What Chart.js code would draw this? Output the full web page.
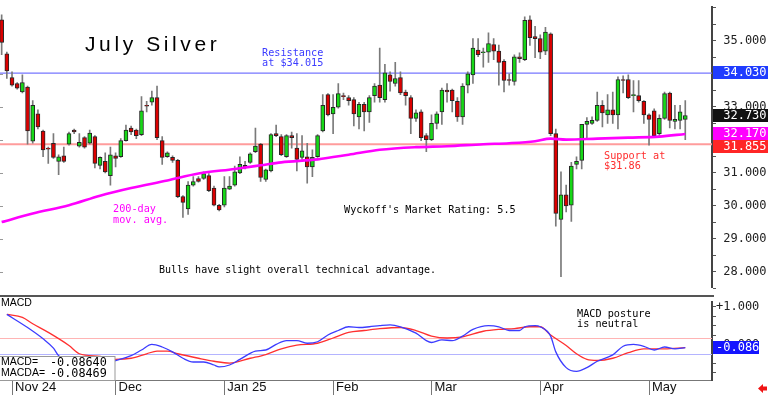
<!DOCTYPE html>
<html lang="en">
<head>
<meta charset="UTF-8" />
<title>July Silver</title>
<script src="https://cdn.jsdelivr.net/npm/chart.js@4"></script>
<style>
  html, body { margin: 0; padding: 0; background: #fff; overflow: hidden; }
  #wrap { position: relative; width: 768px; height: 395px; }
  canvas { position: absolute; left: 0; }
</style>
</head>
<body>
<div id="wrap">
  <canvas id="priceChart" width="768" height="295" style="top:0"></canvas>
  <canvas id="macdChart" width="768" height="100" style="top:295px"></canvas>
</div>
<script>
// daily bars, Oct 30 2024 .. May 12 2025 (x = trading-day index 0..132)
const opens = [
  35.63, 34.60, 33.88, 33.70, 33.44, 33.59, 31.95, 32.78, 32.26, 31.74,
  31.89, 31.34, 31.51, 31.86, 32.29, 31.80, 32.06, 31.89, 32.09, 31.22,
  31.34, 30.91, 31.51, 31.48, 31.97, 32.35, 32.29, 32.15, 33.04, 33.13,
  33.27, 31.97, 31.48, 31.46, 31.37, 30.27, 29.90, 30.62, 30.82, 30.82,
  30.91, 30.53, 30.01, 30.01, 30.50, 30.62, 30.99, 31.22, 31.31, 31.63,
  31.86, 30.79, 31.05, 32.18, 32.09, 31.48, 32.12, 31.74, 31.46, 31.48,
  31.17, 31.48, 32.26, 33.36, 32.78, 32.98, 33.33, 33.27, 33.21, 32.69,
  33.07, 32.84, 33.33, 33.65, 33.21, 33.96, 33.70, 33.88, 33.44, 33.27,
  32.64, 32.84, 32.12, 32.00, 32.49, 32.84, 33.50, 33.50, 33.16, 32.69,
  33.65, 33.96, 34.71, 34.63, 34.65, 34.88, 34.68, 34.37, 33.82, 33.76,
  34.51, 34.42, 35.63, 35.12, 35.06, 34.68, 35.20, 32.18, 29.58, 30.33,
  30.01, 31.25, 31.37, 32.46, 32.49, 32.58, 33.04, 32.75, 32.90, 32.75,
  33.82, 33.82, 33.33, 33.33, 33.16, 32.75, 32.87, 32.18, 32.64, 33.41,
  32.55, 32.58, 32.61
];
const highs = [
  35.78, 34.65, 34.05, 33.73, 33.96, 33.62, 33.18, 32.90, 32.29, 31.77,
  32.18, 31.54, 31.77, 32.23, 32.32, 32.18, 32.09, 32.29, 32.12, 31.48,
  31.60, 31.77, 31.60, 32.03, 32.44, 32.41, 32.32, 33.30, 33.16, 33.47,
  33.62, 32.09, 31.63, 31.51, 31.40, 30.30, 30.73, 30.88, 30.88, 31.02,
  30.97, 30.59, 30.04, 30.88, 30.88, 31.20, 31.48, 31.34, 31.60, 32.35,
  31.89, 31.11, 32.18, 32.44, 32.15, 32.15, 32.23, 32.18, 32.12, 31.89,
  31.69, 32.15, 33.36, 33.39, 33.36, 33.70, 33.41, 33.33, 33.27, 33.13,
  33.13, 33.33, 33.70, 34.77, 34.28, 34.05, 34.34, 34.05, 33.50, 33.33,
  32.90, 32.90, 32.18, 32.75, 32.84, 33.56, 33.70, 33.53, 33.27, 33.70,
  34.05, 35.06, 35.06, 34.77, 35.23, 35.06, 34.86, 34.42, 33.99, 34.57,
  34.63, 35.72, 35.75, 35.43, 35.17, 35.40, 35.23, 32.32, 31.02, 30.62,
  31.31, 31.48, 32.46, 32.67, 32.69, 33.44, 33.18, 33.36, 33.44, 33.90,
  33.93, 33.96, 33.79, 33.79, 33.18, 32.78, 32.93, 32.75, 33.44, 33.44,
  33.04, 33.04, 33.18
];
const lows = [
  34.57, 33.85, 33.62, 33.53, 33.41, 31.86, 31.89, 32.32, 31.48, 31.28,
  31.43, 30.94, 31.31, 31.83, 32.18, 31.77, 31.74, 31.86, 31.14, 31.11,
  30.99, 30.62, 31.17, 31.46, 31.95, 32.15, 32.03, 32.12, 32.84, 33.04,
  32.00, 31.25, 31.46, 31.31, 30.24, 29.64, 29.73, 30.59, 30.71, 30.79,
  30.42, 29.99, 29.84, 29.96, 30.48, 30.59, 30.97, 31.11, 31.28, 31.60,
  30.73, 30.73, 31.02, 32.09, 31.51, 31.46, 31.74, 31.05, 31.40, 30.68,
  30.88, 31.46, 32.23, 32.72, 32.18, 32.95, 33.21, 33.04, 32.41, 32.32,
  32.26, 32.52, 33.13, 33.13, 33.13, 33.47, 33.62, 33.36, 33.04, 32.18,
  32.55, 31.97, 31.63, 31.97, 32.32, 32.46, 33.13, 32.84, 32.55, 32.46,
  33.41, 33.70, 34.51, 34.19, 34.34, 34.42, 33.65, 33.44, 33.65, 33.65,
  34.34, 34.39, 34.85, 34.48, 34.45, 34.57, 32.12, 29.38, 27.85, 29.81,
  29.52, 31.11, 31.11, 32.06, 32.46, 32.55, 32.38, 32.49, 32.49, 32.32,
  33.41, 33.24, 32.84, 33.13, 32.49, 31.83, 32.06, 32.12, 32.61, 32.35,
  32.32, 32.32, 32.00
];
const closes = [
  34.94, 34.08, 33.65, 33.56, 33.73, 32.26, 33.04, 32.38, 31.69, 31.71,
  31.46, 31.48, 31.34, 32.18, 32.23, 31.92, 31.77, 32.20, 31.28, 31.46,
  31.02, 31.54, 31.43, 31.97, 32.29, 32.23, 32.12, 32.87, 33.01, 33.27,
  32.06, 31.46, 31.60, 31.37, 30.27, 30.10, 30.62, 30.73, 30.73, 30.97,
  30.45, 30.01, 29.87, 30.53, 30.59, 31.02, 31.25, 31.14, 31.57, 31.80,
  30.85, 31.08, 32.15, 32.12, 31.54, 32.12, 32.06, 31.40, 31.66, 31.17,
  31.46, 32.12, 33.04, 32.75, 32.98, 33.39, 33.30, 33.18, 32.78, 33.07,
  32.84, 33.27, 33.62, 33.27, 34.02, 33.76, 33.85, 33.41, 33.33, 32.64,
  32.81, 32.06, 32.00, 32.49, 32.78, 33.50, 33.44, 33.18, 32.69, 33.62,
  33.99, 34.77, 34.57, 34.65, 34.91, 34.68, 34.34, 33.79, 33.79, 34.51,
  34.45, 35.61, 35.09, 35.06, 34.65, 35.26, 32.18, 29.76, 30.33, 29.99,
  31.20, 31.34, 32.46, 32.55, 32.58, 33.04, 32.81, 32.90, 32.75, 33.82,
  33.79, 33.27, 33.36, 33.18, 32.75, 32.61, 32.12, 32.64, 33.39, 32.58,
  32.61, 32.84, 32.73
];

// 200-day moving average
const maIdx = [0, 6, 13, 19, 25, 32, 38, 45, 50, 54, 61, 67, 73, 80, 86, 93, 98, 103, 106, 109, 115, 121, 127, 132];
const maVals = [29.50, 29.76, 30.01, 30.30, 30.53, 30.76, 30.97, 31.11, 31.22, 31.31, 31.40, 31.54, 31.69, 31.77, 31.80, 31.86, 31.89, 31.95, 32.03, 32.00, 32.03, 32.06, 32.09, 32.17];

// MACD (blue) and MACDA signal (red)
const macdIdx = [1, 5, 8, 10, 11, 17, 22, 25, 27, 29, 31, 33, 35, 37, 39, 41, 42, 44, 46, 49, 51, 53, 55, 57, 59, 61, 63, 65, 67, 69, 71, 73, 75, 77, 80, 82, 83, 85, 87, 89, 91, 94, 96, 98, 100, 101, 103, 104, 106, 107, 109, 111, 113, 115, 118, 120, 122, 124, 126, 128, 130, 132];
const macdVals = [0.80, 0.45, 0.15, -0.10, -0.30, -0.62, -0.43, -0.30, -0.15, 0.00, -0.07, -0.20, -0.37, -0.47, -0.47, -0.55, -0.60, -0.55, -0.40, -0.18, -0.15, 0.00, 0.10, 0.10, 0.03, 0.07, 0.25, 0.37, 0.47, 0.45, 0.47, 0.50, 0.52, 0.47, 0.30, 0.10, 0.05, 0.12, 0.10, 0.22, 0.40, 0.50, 0.47, 0.37, 0.37, 0.47, 0.50, 0.47, 0.22, -0.20, -0.62, -0.72, -0.62, -0.45, -0.28, -0.05, 0.00, -0.05, -0.15, -0.07, -0.12, -0.086];
const signalIdx = [1, 4, 6, 9, 13, 15, 19, 22, 25, 28, 30, 32, 34, 38, 41, 44, 48, 51, 54, 57, 61, 64, 67, 70, 73, 77, 80, 83, 86, 89, 93, 96, 99, 102, 104, 106, 109, 111, 113, 115, 118, 121, 124, 128, 132];
const signalVals = [0.80, 0.72, 0.55, 0.32, -0.03, -0.25, -0.32, -0.40, -0.37, -0.25, -0.18, -0.18, -0.25, -0.37, -0.45, -0.50, -0.37, -0.27, -0.12, -0.02, 0.03, 0.17, 0.32, 0.37, 0.42, 0.45, 0.37, 0.22, 0.17, 0.20, 0.35, 0.40, 0.42, 0.47, 0.47, 0.25, -0.03, -0.25, -0.40, -0.43, -0.37, -0.22, -0.12, -0.12, -0.085];
const macdNow = -0.08640;
const signalNow = -0.08469;

// axes
const monthLabels = ["Nov 24", "Dec", "Jan 25", "Feb", "Mar", "Apr", "May"];
const monthStart = [2, 22, 43, 64, 83, 104, 125];
const priceTicks = [27.5, 28, 28.5, 29, 29.5, 30, 30.5, 31, 31.5, 32, 32.5, 33, 33.5, 34, 34.5, 35, 35.5, 36];
const priceLabelTicks = [28, 29, 30, 31, 32, 33, 34, 35];
const macdTicks = [1, 0.75, 0.5, 0.25, 0, -0.25, -0.5, -0.75];
const macdLabelTicks = [1, 0];

// levels and marked values
const resistance = 34.015;
const support = 31.855;
const priceMarks = [34.030, 32.730, 32.170, 31.855];
const macdLevels = [0.18, -0.25];

const X_MIN = -0.32, X_MAX = 137.16;
const MONO = '"DejaVu Sans Mono", monospace';
const SANS = '"Liberation Sans", Arial, sans-serif';

const fmt3 = v => (v > 0 ? ' ' : v < 0 ? '-' : ' ') + Math.abs(v).toFixed(3);

function spacedText(ctx, str, x, y, gap) {
  for (const ch of str) {
    ctx.fillText(ch, x, y);
    x += ctx.measureText(ch).width + gap;
  }
}

function valueBoxes(ctx, scale, marks, colors, x0, x1, h) {
  let lastBottom = -Infinity;
  ctx.font = '12px ' + MONO;
  ctx.textBaseline = 'middle';
  ctx.textAlign = 'left';
  marks.map((v, k) => ({ v, c: colors[k], p: scale.getPixelForValue(v) }))
    .sort((a, b) => a.p - b.p)
    .forEach(m => {
      let top = Math.round(m.p - h / 2);
      if (top < lastBottom) top = lastBottom;
      ctx.fillStyle = m.c;
      ctx.fillRect(x0, top, x1 - x0, h);
      ctx.fillStyle = '#fff';
      ctx.fillText(fmt3(m.v), x0 + 3, top + h / 2 + 0.5);
      lastBottom = top + h;
    });
}

const up = i => closes[i] >= opens[i];
const idx = opens.map((_, i) => i);

const priceDecor = {
  id: 'priceDecor',
  beforeDatasetsDraw(chart) {
    const { ctx, chartArea: a, scales: { y } } = chart;
    ctx.save();
    [[resistance, '#7676ff', 1.3], [support, '#ff9c9c', 2]].forEach(([v, c, w]) => {
      const py = y.getPixelForValue(v);
      ctx.strokeStyle = c;
      ctx.lineWidth = w;
      ctx.beginPath();
      ctx.moveTo(a.left, py);
      ctx.lineTo(a.right, py);
      ctx.stroke();
    });
    // little marks on the left edge at whole dollars
    ctx.strokeStyle = '#999';
    ctx.lineWidth = 1;
    priceLabelTicks.forEach(v => {
      const py = Math.round(y.getPixelForValue(v)) + 0.5;
      ctx.beginPath();
      ctx.moveTo(0, py);
      ctx.lineTo(3, py);
      ctx.stroke();
    });
    ctx.restore();
  },
  afterDraw(chart) {
    const { ctx, scales: { y } } = chart;
    ctx.save();
    valueBoxes(ctx, y, priceMarks, ['#1f3cff', '#111111', '#ff00ff', '#ff2626'], 713, 768, 13);

    ctx.textBaseline = 'middle';
    ctx.textAlign = 'left';
    ctx.fillStyle = '#000';
    ctx.font = '21px ' + SANS;
    spacedText(ctx, 'July Silver', 85, 45, 3.6);

    ctx.font = '10.2px ' + MONO;
    ctx.fillStyle = '#3b3bff';
    ctx.fillText('Resistance', 262, 53);
    ctx.fillText('at $34.015', 262, 63);

    ctx.fillStyle = '#ff2d2d';
    ctx.fillText('Support at', 604, 156);
    ctx.fillText('$31.86', 604, 166);

    ctx.fillStyle = '#ff00ff';
    ctx.fillText('200-day', 113, 209);
    ctx.fillText('mov. avg.', 113, 220);

    ctx.fillStyle = '#000';
    ctx.fillText("Wyckoff's Market Rating: 5.5", 344, 210);
    ctx.font = '10px ' + MONO;
    ctx.fillText('Bulls have slight overall technical advantage.', 159, 270);
    ctx.restore();
  }
};

const macdDecor = {
  id: 'macdDecor',
  beforeDatasetsDraw(chart) {
    const { ctx, chartArea: a, scales: { y } } = chart;
    ctx.save();
    ctx.fillStyle = '#555';
    ctx.fillRect(0, 0, 714, 2);
    ['#ffb4b4', '#b4b4ff'].forEach((c, k) => {
      const py = Math.round(y.getPixelForValue(macdLevels[k])) + 0.5;
      ctx.strokeStyle = c;
      ctx.lineWidth = 1;
      ctx.beginPath();
      ctx.moveTo(a.left, py);
      ctx.lineTo(a.right, py);
      ctx.stroke();
    });
    ctx.restore();
  },
  afterDraw(chart) {
    const { ctx, scales: { y } } = chart;
    ctx.save();
    ctx.textBaseline = 'middle';
    ctx.textAlign = 'left';
    ctx.fillStyle = '#000';
    ctx.font = '10.5px ' + SANS;
    ctx.fillText('MACD', 1, 8);

    ctx.font = '10.2px ' + MONO;
    ctx.fillText('MACD posture', 577, 19);
    ctx.fillText('is neutral', 577, 29);

    // readout box
    ctx.fillStyle = '#fff';
    ctx.fillRect(0, 61, 115, 24);
    ctx.strokeStyle = '#999';
    ctx.lineWidth = 1;
    ctx.strokeRect(-0.5, 61.5, 115.5, 24);
    ctx.fillStyle = '#000';
    ctx.font = '10.5px ' + SANS;
    ctx.fillText('MACD=', 1, 67.5);
    ctx.fillText('MACDA=', 1, 78.5);
    ctx.font = '11.8px ' + MONO;
    ctx.fillText(macdNow.toFixed(5), 50, 67.5);
    ctx.fillText(signalNow.toFixed(5), 50, 78.5);

    valueBoxes(ctx, y, [macdNow], ['#1414ff'], 713, 759, 13);

    // red arrow, bottom right
    ctx.fillStyle = '#f01414';
    ctx.beginPath();
    ctx.moveTo(758, 93.5);
    ctx.lineTo(763, 89);
    ctx.lineTo(763, 91.5);
    ctx.lineTo(767, 91.5);
    ctx.lineTo(767, 95.5);
    ctx.lineTo(763, 95.5);
    ctx.lineTo(763, 98);
    ctx.closePath();
    ctx.fill();
    ctx.restore();
  }
};

const common = {
  responsive: false,
  animation: false,
  events: [],
  plugins: { legend: { display: false }, tooltip: { enabled: false } }
};

new Chart(document.getElementById('priceChart'), {
  type: 'bar',
  data: {
    datasets: [
      {
        type: 'line',
        data: maIdx.map((x, k) => ({ x, y: maVals[k] })),
        borderColor: '#ff00ff',
        borderWidth: 2.6,
        pointRadius: 0,
        cubicInterpolationMode: 'monotone'
      },
      {
        data: idx.map(i => ({ x: i, y: [opens[i], closes[i]] })),
        grouped: false,
        barThickness: 4,
        maxBarThickness: 4,
        minBarLength: 1,
        backgroundColor: c => up(c.dataIndex) ? '#17d817' : '#dc0000',
        borderColor: '#262626',
        borderWidth: 1,
        borderSkipped: false
      },
      {
        data: idx.map(i => ({ x: i, y: [lows[i], highs[i]] })),
        grouped: false,
        barThickness: 1,
        maxBarThickness: 1,
        backgroundColor: '#7a7a7a',
        borderWidth: 0
      }
    ]
  },
  options: {
    ...common,
    layout: { padding: 0, autoPadding: false },
    scales: {
      x: { type: 'linear', min: X_MIN, max: X_MAX, offset: false, display: false },
      y: {
        position: 'right',
        min: 27.51,
        max: 36.01,
        afterFit: s => { s.width = 56; },
        afterBuildTicks: s => { s.ticks = priceTicks.map(v => ({ value: v })); },
        border: { display: true, color: '#444', width: 2 },
        grid: { drawOnChartArea: false, drawTicks: true, tickLength: 4, tickColor: '#555' },
        ticks: {
          autoSkip: false,
          padding: 0,
          color: '#222',
          font: { family: MONO, size: 12 },
          callback: v => priceLabelTicks.includes(v) ? fmt3(v) : ''
        }
      }
    }
  },
  plugins: [priceDecor]
});

new Chart(document.getElementById('macdChart'), {
  type: 'line',
  data: {
    datasets: [
      {
        data: macdIdx.map((x, k) => ({ x, y: macdVals[k] })),
        borderColor: '#3c3cff',
        borderWidth: 1.3,
        pointRadius: 0,
        cubicInterpolationMode: 'monotone'
      },
      {
        data: signalIdx.map((x, k) => ({ x, y: signalVals[k] })),
        borderColor: '#ff3030',
        borderWidth: 1.3,
        pointRadius: 0,
        cubicInterpolationMode: 'monotone'
      }
    ]
  },
  options: {
    ...common,
    layout: { padding: { top: 2, left: 0, right: 0, bottom: 0 }, autoPadding: false },
    scales: {
      x: {
        type: 'linear',
        min: X_MIN,
        max: X_MAX,
        offset: false,
        afterFit: s => { s.height = 15; },
        afterBuildTicks: s => { s.ticks = monthStart.map(v => ({ value: v })); },
        border: { display: true, color: '#777', width: 1 },
        grid: { drawOnChartArea: false, drawTicks: true, tickLength: 15, color: '#777' },
        ticks: {
          autoSkip: false,
          maxRotation: 0,
          align: 'start',
          labelOffset: 3,
          padding: -15,
          color: '#111',
          font: { family: SANS, size: 13 },
          callback: v => monthLabels[monthStart.indexOf(v)]
        }
      },
      y: {
        position: 'right',
        min: -0.95,
        max: 1.125,
        afterFit: s => { s.width = 56; },
        afterBuildTicks: s => { s.ticks = macdTicks.map(v => ({ value: v })); },
        border: { display: true, color: '#444', width: 2 },
        grid: { drawOnChartArea: false, drawTicks: true, tickLength: 4, tickColor: '#555' },
        ticks: {
          autoSkip: false,
          padding: 0,
          color: '#222',
          font: { family: MONO, size: 12 },
          callback: v => macdLabelTicks.includes(v) ? (v > 0 ? '+' : ' ') + Math.abs(v).toFixed(3) : ''
        }
      }
    }
  },
  plugins: [macdDecor]
});
</script>
</body>
</html>
